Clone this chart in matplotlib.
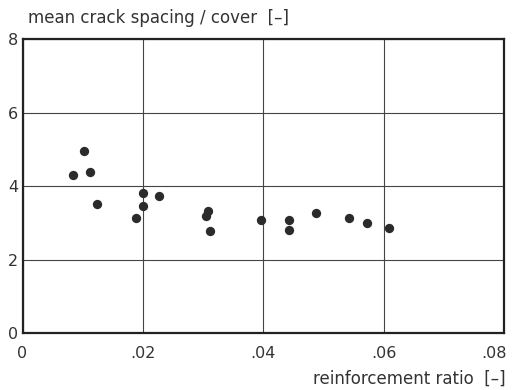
import matplotlib
matplotlib.use('Agg')
import matplotlib.pyplot as plt
from matplotlib.transforms import ScaledTranslation

# measured points: reinforcement ratio vs mean crack spacing / cover
ratio = [0.0084, 0.0102, 0.0112, 0.0124, 0.0189, 0.0201, 0.0200, 0.0227,
         0.0308, 0.0305, 0.0311, 0.0396, 0.0443, 0.0443, 0.0488, 0.0542,
         0.0573, 0.0609]
spacing = [4.30, 4.95, 4.38, 3.51, 3.12, 3.82, 3.47, 3.72,
           3.33, 3.19, 2.78, 3.08, 3.07, 2.80, 3.27, 3.14,
           2.99, 2.87]

xticks = [0, 0.02, 0.04, 0.06, 0.08]
xtick_labels = ['0', '.02', '.04', '.06', '.08']
yticks = [0, 2, 4, 6, 8]

fig = plt.figure(figsize=(5.14, 3.9), dpi=100)
ax = fig.add_axes([0.0438, 0.146, 0.9367, 0.754])

ax.scatter(ratio, spacing, s=45, color='#2b2b2b', zorder=3, linewidths=0)

ax.set_xlim(0, 0.08)
ax.set_ylim(0, 8)
ax.set_xticks(xticks)
ax.set_xticklabels(xtick_labels)
ax.set_yticks(yticks)
ax.grid(True, color='#444444', linewidth=0.8)
ax.tick_params(length=0, labelsize=11.5, colors='#333333')
ax.tick_params(axis='x', pad=9)
ax.tick_params(axis='y', pad=3)
for sp in ax.spines.values():
    sp.set_linewidth(1.6)
    sp.set_color('#222222')

# keep the last x label inside the figure edge
last = ax.get_xticklabels()[-1]
last.set_transform(last.get_transform() + ScaledTranslation(-0.1, 0, fig.dpi_scale_trans))

fig.text(0.054, 0.955, 'mean crack spacing / cover  [\u2013]', fontsize=12,
         color='#333333', va='center', ha='left')
fig.text(0.983, 0.028, 'reinforcement ratio  [\u2013]', fontsize=12,
         color='#333333', va='center', ha='right')

fig.savefig('out.png', dpi=100)
